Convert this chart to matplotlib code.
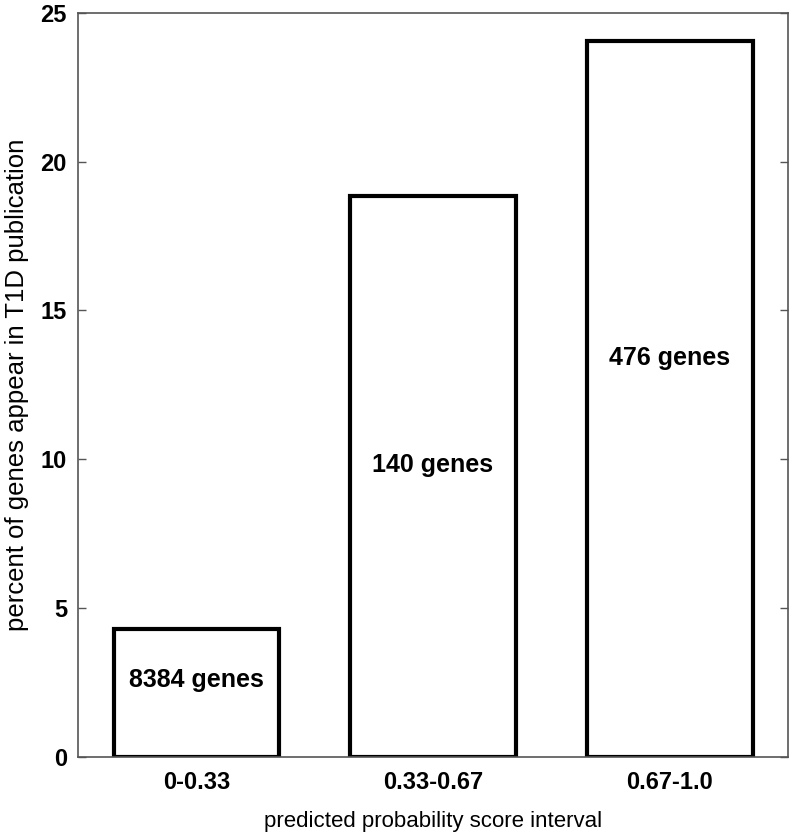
import matplotlib
matplotlib.use("Agg")
import matplotlib.pyplot as plt

plt.rcParams['font.family'] = ['Liberation Sans', 'DejaVu Sans']

intervals = ["0-0.33", "0.33-0.67", "0.67-1.0"]
percent = [4.3, 18.85, 24.05]
gene_labels = ["8384 genes", "140 genes", "476 genes"]
label_y = [2.6, 9.8, 13.4]

fig = plt.figure(figsize=(7.92, 8.4), dpi=100)
ax = fig.add_axes([0.0985, 0.0988, 0.8965, 0.886])

x = range(len(intervals))
ax.bar(x, percent, width=0.7, color="white", edgecolor="black", linewidth=3)
for i in x:
    ax.text(i, label_y[i], gene_labels[i], ha="center", va="center",
            fontsize=18, fontweight="bold")

ax.set_xlim(-0.5, 2.5)
ax.set_ylim(0, 25)
ax.set_xticks(list(x))
ax.set_xticklabels(intervals)
ax.set_yticks([0, 5, 10, 15, 20, 25])
ax.tick_params(axis="y", direction="in", right=True, length=6, width=1,
               color="#555555", labelsize=17, pad=8)
ax.tick_params(axis="x", length=0, labelsize=17, pad=10)
for lab in ax.get_xticklabels() + ax.get_yticklabels():
    lab.set_fontweight("bold")
for s in ax.spines.values():
    s.set_color("#555555")
    s.set_linewidth(1.2)

ax.set_xlabel("predicted probability score interval", fontsize=16, labelpad=12)
ax.set_ylabel("percent of genes appear in T1D publication", fontsize=18.5, labelpad=8)

fig.savefig("out.png", dpi=100)
